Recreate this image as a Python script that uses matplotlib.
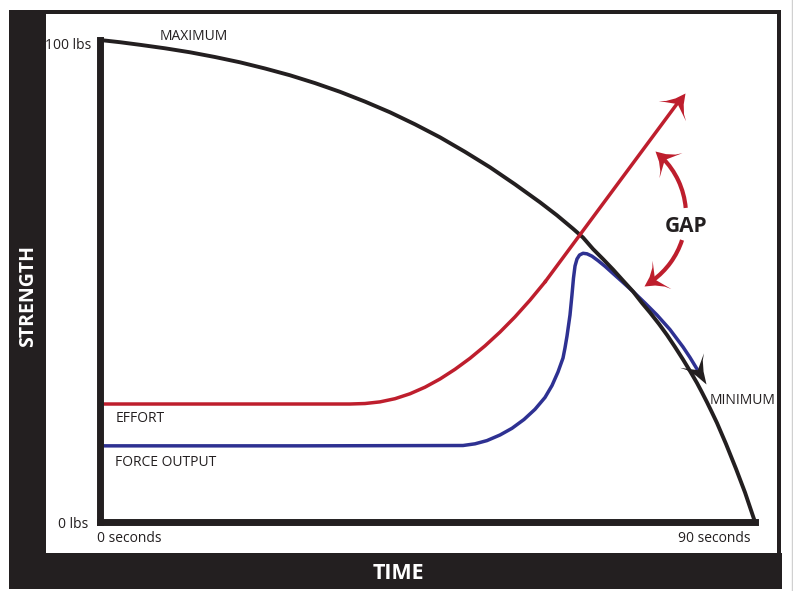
import math
import numpy as np
import matplotlib
matplotlib.use('Agg')
import matplotlib.pyplot as plt
from matplotlib.markers import MarkerStyle
from matplotlib.path import Path
from matplotlib.patches import Rectangle, Arc

plt.rcParams['font.family'] = ['Open Sans', 'DejaVu Sans']

# values: time in seconds, strength in lbs
max_t = [0, 2.75, 5.50, 8.93, 12.37, 15.80, 19.24, 22.67, 26.11, 29.54, 32.98,
         36.41, 39.85, 43.28, 46.72, 50.15, 53.59, 57.02, 60.46, 62.79, 64.99,
         66.37, 67.74, 69.11, 70.49, 71.86, 73.24, 74.47, 75.57, 76.81, 77.91,
         79.01, 80.11, 81.07, 82.03, 82.72, 83.41, 84.09, 84.78, 86.02, 87.40,
         88.63, 90]
max_lbs = [100, 99.54, 99.00, 98.28, 97.45, 96.47, 95.37, 94.09, 92.68, 91.06, 89.25,
           87.22, 85.00, 82.51, 79.81, 76.80, 73.59, 70.06, 66.33, 63.63, 60.85,
           59.02, 56.64, 54.56, 52.39, 50.10, 47.82, 45.44, 43.46, 41.08, 38.80,
           36.31, 33.71, 31.33, 28.84, 26.87, 24.83, 22.72, 20.54, 16.18, 11.00,
           6.12, 0]

effort_t = [0, 34.35, 36.41, 38.47, 40.53, 42.59, 44.66, 46.72, 48.78, 50.84,
            52.90, 54.96, 57.02, 59.08, 61.14, 80.38]
effort_lbs = [24.48, 24.48, 24.58, 24.92, 25.58, 26.60, 27.97, 29.67, 31.68, 33.96,
              36.54, 39.40, 42.55, 46.02, 49.79, 89.00]

force_t = [0, 27.5, 49.88, 51.53, 53.17, 54.96, 56.61, 58.26, 59.77, 61.14, 62.11,
           62.93, 63.62, 63.89, 64.17, 64.58, 64.85, 65.06, 65.27, 65.54, 65.89,
           66.37, 66.92, 67.60, 68.43, 69.39, 70.49, 71.73, 73.24, 74.88, 76.53,
           78.31, 80.11, 81.07, 82.03]
force_lbs = [15.8, 15.8, 15.87, 16.22, 16.89, 18.05, 19.44, 21.27, 23.38, 25.83, 28.32,
             31.12, 34.02, 36.10, 38.59, 42.95, 47.10, 50.62, 53.11, 54.56, 55.39,
             55.75, 55.64, 55.15, 54.23, 53.05, 51.56, 49.88, 47.82, 45.44, 42.95,
             39.94, 36.31, 34.13, 31.74]

BLACK = '#231f20'
RED = '#be1e2d'
BLUE = '#2e3192'
DPI = 100


def add_head(ax, tip, base, length, width, color, notch=0.6):
    # swept arrow head, sized in pixels, pointing from base to tip
    p0 = ax.transData.transform(base)
    p1 = ax.transData.transform(tip)
    ang = math.degrees(math.atan2(p1[1] - p0[1], p1[0] - p0[0]))
    L, W = length, width
    verts = [(0, 0), (-0.45 * L, 0.15 * W), (-0.8 * L, 0.33 * W), (-L, 0.5 * W),
             (-notch * L, 0), (-L, -0.5 * W), (-0.8 * L, -0.33 * W),
             (-0.45 * L, -0.15 * W), (0, 0)]
    codes = [Path.MOVETO] + [Path.LINETO] * 7 + [Path.CLOSEPOLY]
    m = MarkerStyle(Path(verts, codes)).rotated(deg=ang)
    ms = 2 * max(L, 0.5 * W) * 72 / DPI
    ax.plot([tip[0]], [tip[1]], marker=m, ms=ms, color=color, mec='none',
            ls='none', zorder=6, clip_on=False)


fig = plt.figure(figsize=(7.93, 5.91), dpi=DPI)

# frame drawn in pixel coordinates
bg = fig.add_axes([0, 0, 1, 1], zorder=0)
bg.set_xlim(0, 793)
bg.set_ylim(591, 0)
bg.axis('off')
bg.add_patch(Rectangle((9, 10), 37, 579, color=BLACK, lw=0))
bg.add_patch(Rectangle((9, 10), 772, 4, color=BLACK, lw=0))
bg.add_patch(Rectangle((777, 10), 4, 579, color=BLACK, lw=0))
bg.add_patch(Rectangle((9, 553), 773, 36, color=BLACK, lw=0))
bg.plot([792, 792], [0, 591], color='#d0d0d0', lw=1)
bg.text(28, 296, 'STRENGTH', rotation=90, color='white', fontsize=14,
        fontweight='bold', ha='center', va='center')
bg.text(398, 579, 'TIME', color='white', fontsize=15.5, fontweight='bold',
        ha='center', va='baseline')

# GAP double arrow
cx, cy, r = 605, 215, 81
bg.add_patch(Arc((cx, cy), 2 * r, 2 * r, theta1=-45, theta2=-5, color=RED, lw=3))
bg.add_patch(Arc((cx, cy), 2 * r, 2 * r, theta1=18, theta2=54, color=RED, lw=3))
for t_tip, t_base in [(-52, -43), (61, 52)]:
    tip = (cx + r * math.cos(math.radians(t_tip)), cy + r * math.sin(math.radians(t_tip)))
    base = (cx + r * math.cos(math.radians(t_base)), cy + r * math.sin(math.radians(t_base)))
    add_head(bg, tip, base, 21, 34, RED)
bg.text(686, 232, 'GAP', color=BLACK, fontsize=15, fontweight='bold',
        ha='center', va='baseline')

# chart
ax = fig.add_axes([100 / 793, 69 / 591, 655 / 793, 482 / 591], zorder=1)
ax.patch.set_alpha(0)
ax.set_xlim(0, 90)
ax.set_ylim(0, 100)
for side in ['top', 'right']:
    ax.spines[side].set_visible(False)
for side in ['left', 'bottom']:
    ax.spines[side].set_linewidth(5)
    ax.spines[side].set_color(BLACK)
ax.set_xticks([])
ax.set_yticks([])

ax.plot(max_t, max_lbs, color=BLACK, lw=2.8, clip_on=False, zorder=3,
        solid_capstyle='butt', solid_joinstyle='round')
ax.plot(effort_t[:-1], effort_lbs[:-1], color=RED, lw=2.5, clip_on=False,
        zorder=2, solid_joinstyle='round')
ax.annotate('', xy=(effort_t[-1], effort_lbs[-1]), xytext=(effort_t[-2], effort_lbs[-2]),
            arrowprops=dict(arrowstyle='-', color=RED, lw=2.5, shrinkA=0, shrinkB=9))
add_head(ax, (effort_t[-1], effort_lbs[-1]), (effort_t[-2], effort_lbs[-2]), 22, 34, RED)

ax.plot(force_t, force_lbs, color=BLUE, lw=2.5, clip_on=False, zorder=2,
        solid_joinstyle='round')
# black head continuing the force line
p_a = ax.transData.transform((force_t[-2], force_lbs[-2]))
p_b = ax.transData.transform((force_t[-1], force_lbs[-1]))
d = (p_b - p_a) / np.hypot(*(p_b - p_a))
tip = ax.transData.inverted().transform(p_b + d * 17)
add_head(ax, tuple(tip), (force_t[-1], force_lbs[-1]), 28, 28, BLACK)

lab = dict(color=BLACK, fontsize=10, va='baseline')
ax.text(8.2, 99.9, 'MAXIMUM', ha='left', **lab)
ax.text(2.2, 20.7, 'EFFORT', ha='left', **lab)
ax.text(2.1, 11.6, 'FORCE OUTPUT', ha='left', **lab)
ax.text(83.8, 24.5, 'MINIMUM', ha='left', **lab)
ax.annotate('100 lbs', xy=(0, 100), xytext=(-6.5, -6.5), textcoords='offset points',
            ha='right', **lab)
ax.annotate('0 lbs', xy=(0, 0), xytext=(-8.6, -4.3), textcoords='offset points',
            ha='right', **lab)
ax.annotate('0 seconds', xy=(0, 0), xytext=(-2.2, -14.4), textcoords='offset points',
            ha='left', **lab)
ax.annotate('90 seconds', xy=(90, 0), xytext=(-2.9, -14.4), textcoords='offset points',
            ha='right', **lab)

fig.savefig('out.png', dpi=DPI, facecolor='white')
